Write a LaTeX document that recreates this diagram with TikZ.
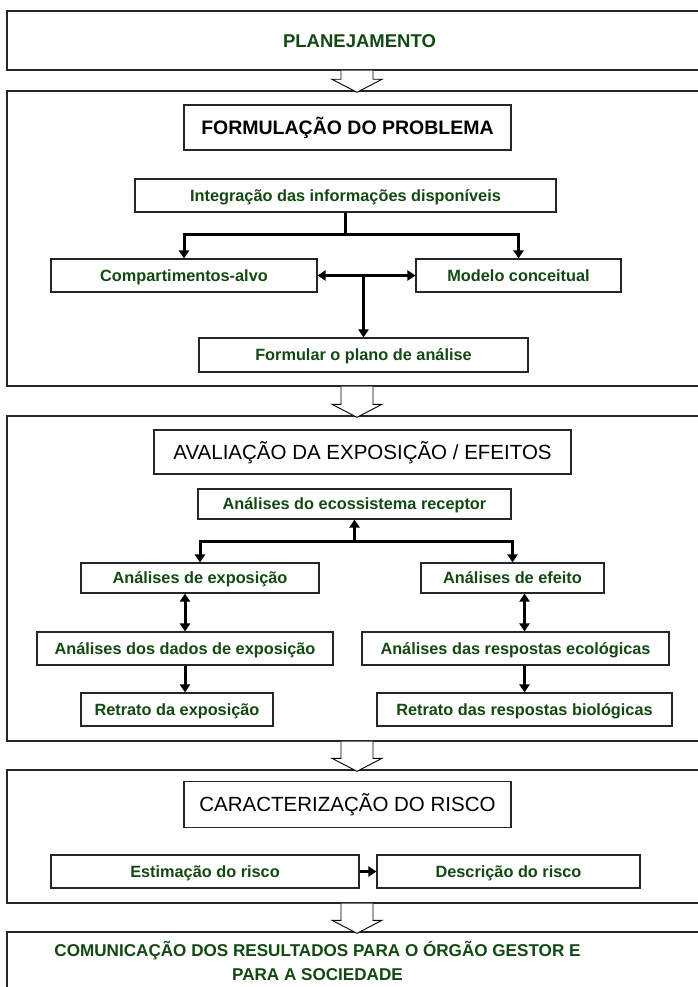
\documentclass[tikz,border=0pt]{standalone}
\usepackage{fontspec}
\setmainfont{Liberation Sans}
\usepackage{tikz}
\usetikzlibrary{calc}
\usetikzlibrary{arrows.meta}

\definecolor{leafgreen}{RGB}{18,72,18}

\tikzset{
  stage/.style={draw=black!85, line width=1.4pt, inner sep=0pt},
  title/.style={draw=black!85, line width=1.2pt, inner sep=0pt, text height=14.7pt, text depth=0pt, font=\fontsize{20.5}{24}\selectfont},
  task/.style={draw=black!85, line width=1.1pt, inner sep=0pt, text=leafgreen, text height=11.7pt, text depth=0pt, font=\bfseries\fontsize{16.3}{19}\selectfont},
  link/.style={line width=3pt, -{Triangle[length=8pt,width=10pt]}},
  twolink/.style={line width=3pt, {Triangle[length=8pt,width=10pt]}-{Triangle[length=8pt,width=10pt]}},
  hollow/.style={draw=black, line width=0.9pt, fill=white, line join=miter}
}

% hollow arrow from one stage to the next
\newcommand{\stagearrow}[2]{%
  \draw[hollow] ($(#1.south -| axis)+(-16,0)$) |- ($(#2.north -| axis)+(-25,-11)$)
    -- ($(#2.north -| axis)+(0,2)$) -- ($(#2.north -| axis)+(25,-11)$)
    -| ($(#1.south -| axis)+(16,0)$);}

\begin{document}
\begin{tikzpicture}[x=1pt,y=-1pt]
  \useasboundingbox (0,0) rectangle (697,987);
  \coordinate (axis) at (357,0);

  % planejamento
  \node[stage, minimum width=705pt, minimum height=59pt, text=leafgreen, text height=13.2pt, text depth=0pt,
        font=\bfseries\fontsize{18.5}{22}\selectfont] (plan) at (359.5,40.5) {PLANEJAMENTO};

  % formulacao do problema
  \node[stage, minimum width=705pt, minimum height=295pt] (probl) at (359.5,238.5) {};
  \node[title, text height=14pt, font=\bfseries\fontsize{19.5}{23}\selectfont, minimum width=327pt, minimum height=45pt] (formul) at (347.5,127.5) {FORMULAÇÃO DO PROBLEMA};
  \node[task, minimum width=421pt, minimum height=33pt] (integ) at (345.5,195.5) {Integração das informações disponíveis};
  \node[task, minimum width=266pt, minimum height=33pt] (comp) at (184,275.5) {Compartimentos-alvo};
  \node[task, minimum width=205pt, minimum height=33pt] (model) at (518.5,275.5) {Modelo conceitual};
  \node[task, minimum width=329pt, minimum height=34pt] (plano) at (363.5,355) {Formular o plano de análise};

  \draw[link] (integ.south) -- ++(0,22) coordinate (fork1) -| (comp.north);
  \draw[link] (fork1) -| (model.north);
  \draw[twolink] (comp.east) -- (model.west);
  \draw[link] (comp.east -| plano.north) -- (plano.north);

  % avaliacao da exposicao / efeitos
  \node[stage, minimum width=705pt, minimum height=325pt] (aval) at (359.5,578.5) {};
  \node[title, minimum width=417pt, minimum height=44pt] (avtit) at (362.5,452) {AVALIAÇÃO DA EXPOSIÇÃO / EFEITOS};
  \node[task, minimum width=313pt, minimum height=30pt] (ecos) at (354.5,504) {Análises do ecossistema receptor};
  \node[task, minimum width=238pt, minimum height=30pt] (expo) at (200,578) {Análises de exposição};
  \node[task, minimum width=183pt, minimum height=30pt] (efei) at (512.5,578) {Análises de efeito};
  \node[task, minimum width=296pt, minimum height=33pt] (dados) at (185,648.5) {Análises dos dados de exposição};
  \node[task, minimum width=307pt, minimum height=33pt] (ecol) at (515.5,648.5) {Análises das respostas ecológicas};
  \node[task, minimum width=192pt, minimum height=33pt] (retexp) at (177,709.5) {Retrato da exposição};
  \node[task, minimum width=295pt, minimum height=33pt] (biol) at (524.5,709.5) {Retrato das respostas biológicas};

  \draw[link] ($(ecos.south)+(0,22)$) coordinate (fork2) -- (ecos.south);
  \draw[link] (fork2) -| (expo.north);
  \draw[link] (fork2) -| (efei.north);
  \draw[twolink] (expo.south -| dados.north) -- (dados.north);
  \draw[twolink] (efei.south -| biol.north) -- (ecol.north -| biol.north);
  \draw[link] (dados.south) -- (dados.south |- retexp.north);
  \draw[link] (ecol.south -| biol.north) -- (biol.north);

  % caracterizacao do risco
  \node[stage, minimum width=705pt, minimum height=133pt] (risk) at (359.5,836.5) {};
  \node[title, minimum width=327pt, minimum height=46pt] (cartit) at (347.5,804.5) {CARACTERIZAÇÃO DO RISCO};
  \node[task, minimum width=308pt, minimum height=33pt] (estim) at (205,871.5) {Estimação do risco};
  \node[task, minimum width=263pt, minimum height=33pt] (descr) at (508.5,871.5) {Descrição do risco};
  \draw[link] (estim.east) -- (descr.west);

  % comunicacao
  \node[stage, minimum width=705pt, minimum height=80pt] (comm) at (359.5,972) {};
  \node[align=center, text=leafgreen, font=\bfseries\fontsize{17.1}{24.5}\selectfont] (commtxt) at (317.5,961)
    {COMUNICAÇÃO DOS RESULTADOS PARA O ÓRGÃO GESTOR E\\PARA A SOCIEDADE};

  \stagearrow{plan}{probl}
  \stagearrow{probl}{aval}
  \stagearrow{aval}{risk}
  \stagearrow{risk}{comm}
\end{tikzpicture}
\end{document}
